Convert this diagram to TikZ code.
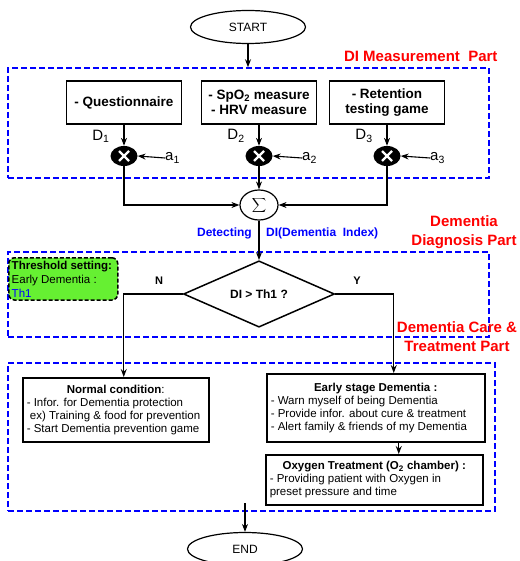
\documentclass[tikz,border=0pt]{standalone}
\usepackage{fontspec}
\setmainfont{Liberation Sans}
\usetikzlibrary{shapes.geometric, arrows.meta, positioning, fit, backgrounds}
\usepackage{xcolor}
\definecolor{thgreen}{RGB}{102,240,50}

\begin{document}
\begin{tikzpicture}[x=1pt, y=-1pt,
    box/.style={draw, line width=1.5pt, align=center, minimum width=115pt, minimum height=43pt, inner sep=2pt, font=\bfseries\fontsize{13.5}{15}\selectfont},
    infobox/.style={draw, line width=1.5pt, align=left, anchor=north west, inner xsep=4pt, inner ysep=3pt, font=\fontsize{11.5}{13}\selectfont},
    term/.style={draw, ellipse, line width=1.2pt, minimum width=115pt, minimum height=33pt, font=\fontsize{12}{14}\selectfont},
    mult/.style={ellipse, fill=black, minimum width=27pt, minimum height=20pt, inner sep=0pt},
    decision/.style={draw, diamond, line width=1.5pt, minimum width=151pt, minimum height=61pt, inner sep=0pt, font=\bfseries\fontsize{12}{14}\selectfont},
    partbox/.style={draw=blue, line width=1.6pt, dash pattern=on 6pt off 3pt, inner sep=0pt},
    partlabel/.style={text=red, align=center, font=\bfseries\fontsize{15}{19}\selectfont},
    dlabel/.style={font=\fontsize{15}{18}\selectfont, inner sep=0pt},
    bluelabel/.style={text=blue, font=\bfseries\fontsize{12}{14}\selectfont, inner sep=0pt},
    arrow/.style={line width=1.1pt, ->, >=Stealth}
]
\useasboundingbox (0,0) rectangle (519,561);

% Parts
\node[partbox, minimum width=481pt, minimum height=110pt] (part1) at (248.5,123) {};
\node[partbox, minimum width=481pt, minimum height=85pt] (part2) at (248.5,294.5) {};
\node[partbox, minimum width=487pt, minimum height=148pt] (part3) at (251.5,437) {};

\node[partlabel, anchor=east] (lab1) at (501,56) {DI Measurement\ \ Part};
\node[partlabel] (lab2) at (464,232.5) {Dementia\\Diagnosis Part};
\node[partlabel] (lab3) at (457,336.5) {Dementia Care \&\\Treatment Part};

% Nodes
\node[term] (start) at (248,27) {START};

\node[box] (quest) at (124,102.5) {- Questionnaire};
\node[box] (spo) at (259,102.5) {- SpO\textsubscript{2} measure\\- HRV measure};
\node[box] (game) at (387,102.5) {- Retention\\testing game};

\node[mult] (m1) at (124,156) {};
\node[mult] (m2) at (259,156) {};
\node[mult] (m3) at (387,156) {};
\foreach \m in {m1,m2,m3}{
  \draw[white, line width=2.4pt] ([xshift=-5pt,yshift=-5pt]\m.center) -- ([xshift=5pt,yshift=5pt]\m.center)
    ([xshift=-5pt,yshift=5pt]\m.center) -- ([xshift=5pt,yshift=-5pt]\m.center);
}

\node[dlabel] (d1) at (101,136) {D\textsubscript{1}};
\node[dlabel] (d2) at (236,136) {D\textsubscript{2}};
\node[dlabel] (d3) at (364,136) {D\textsubscript{3}};
\node[dlabel, anchor=west] (a1) at (165,158) {a\textsubscript{1}};
\node[dlabel, anchor=west] (a2) at (302,158) {a\textsubscript{2}};
\node[dlabel, anchor=west] (a3) at (430,158) {a\textsubscript{3}};

\node[draw, ellipse, line width=1.2pt, minimum width=38pt, minimum height=30pt, inner sep=0pt] (sum) at (259,205) {\fontsize{14}{16}\selectfont$\displaystyle\sum$};

\node[bluelabel, anchor=east] (detect) at (252,233) {Detecting};
\node[bluelabel, anchor=west] (diname) at (266,233) {DI(Dementia\ \ Index)};

\node[draw, line width=1.5pt, dash pattern=on 4pt off 2pt, rounded corners=6pt, fill=thgreen, anchor=north west, align=left, inner xsep=3pt, inner ysep=3pt, font=\fontsize{11.5}{14}\selectfont] (thresh) at (8,257)
  {\makebox[103pt][l]{\textbf{Threshold setting:}}\\ Early Dementia :\\ \textcolor{blue}{Th1}};

\node[decision] (dia) at (259,294) {DI > Th1 ?};
\node[font=\bfseries\fontsize{11}{13}\selectfont] (no) at (159,281) {N};
\node[font=\bfseries\fontsize{11}{13}\selectfont] (yes) at (357,281) {Y};

\node[infobox, minimum height=64pt] (normal) at (22,377)
  {\makebox[178pt][c]{\textbf{Normal condition}:}\\
   - Infor. for Dementia protection\\
   \ ex) Training \& food for prevention\\
   - Start Dementia prevention game};
\node[infobox, minimum height=68pt] (early) at (266,373)
  {\makebox[210pt][c]{\textbf{Early stage Dementia :}}\\
   - Warn myself of being Dementia\\
   - Provide infor. about cure \& treatment\\
   - Alert family \& friends of my Dementia};
\node[infobox, minimum height=50pt] (oxy) at (265,454)
  {\makebox[209pt][c]{\textbf{Oxygen Treatment (O\textsubscript{2} chamber) :}}\\
   - Providing patient with Oxygen in\\
   preset pressure and time};

\coordinate (out) at (245,503);
\node[term] (end) at (245,549) {END};

% Connections
\draw[arrow] (start) -- (start |- part1.north);
\draw[arrow] (quest) -- (m1);
\draw[arrow] (spo) -- (m2);
\draw[arrow] (game) -- (m3);
\draw[arrow] (a1.west) -- (m1.east);
\draw[arrow] (a2.west) -- (m2.east);
\draw[arrow] (a3.west) -- (m3.east);
\draw[arrow] (m1) |- (sum.west);
\draw[arrow] (m2) -- (sum);
\draw[arrow] (m3) |- (sum.east);
\draw[arrow] (sum) -- (dia);
\draw[arrow] (dia.west) -| ([xshift=8pt]normal.north);
\draw[arrow] (dia.east) -| ([xshift=18pt]early.north);
\draw[arrow] ([xshift=23pt]early.south) -- ([xshift=23pt]early.south |- oxy.north);
\draw[arrow] (out) -- (end);

\end{tikzpicture}
\end{document}
